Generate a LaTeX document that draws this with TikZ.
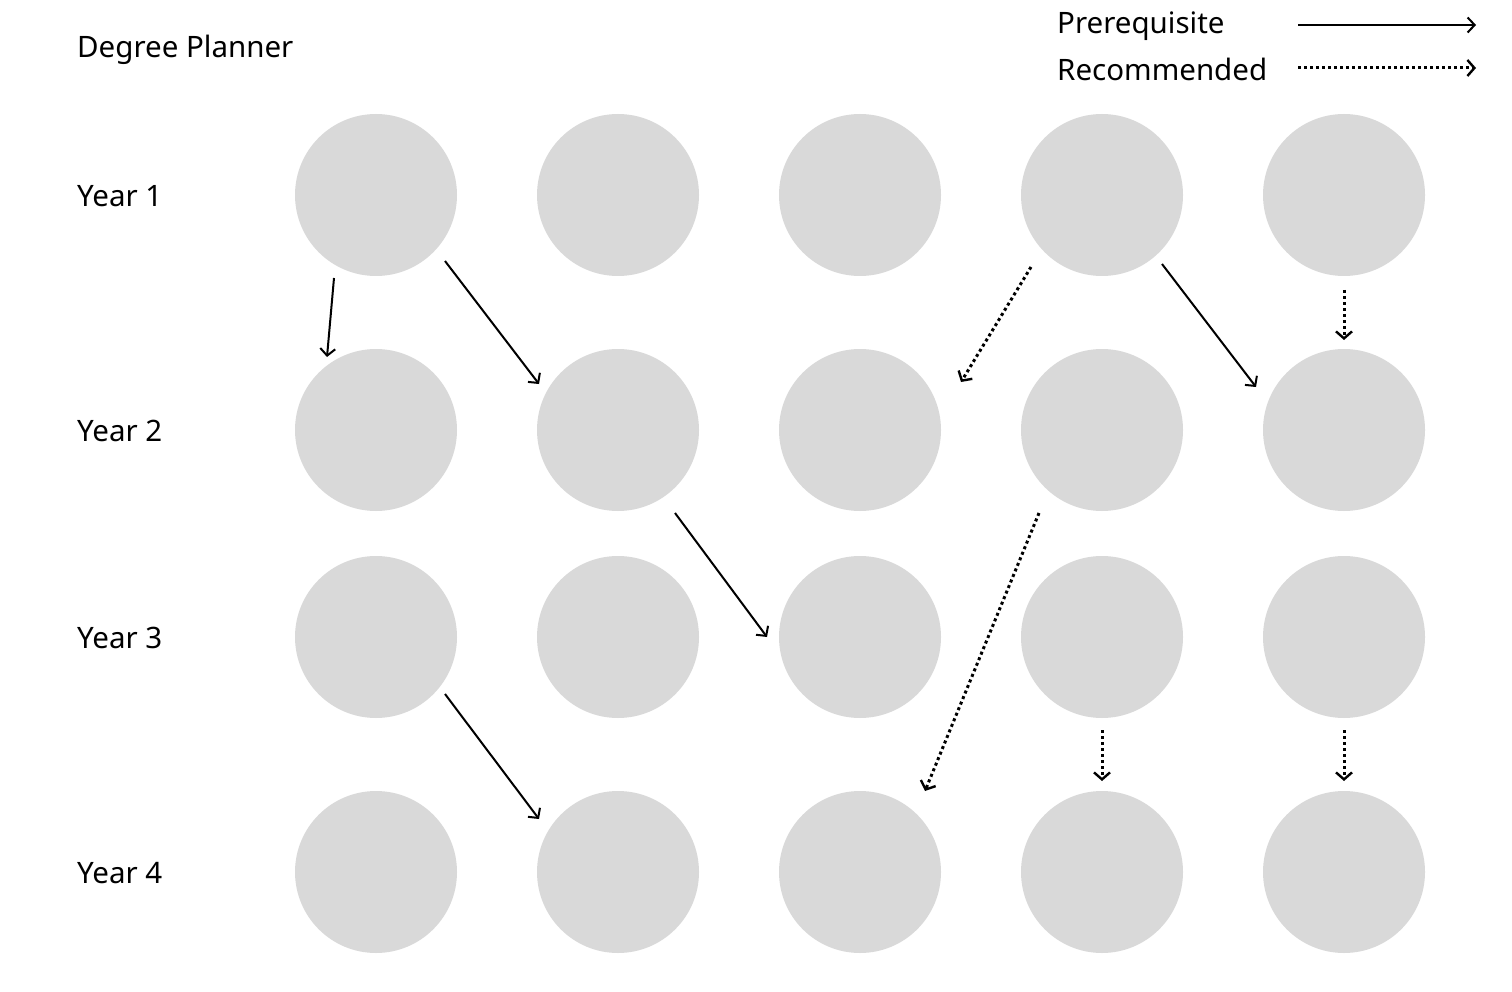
\documentclass[tikz,border=0pt]{standalone}
\usepackage{fontspec}
\setmainfont{Noto Sans}
\usepackage{tikz}
\usetikzlibrary{arrows.meta}
\definecolor{course}{HTML}{D9D9D9}
\tikzset{
  coursenode/.style={circle,fill=course,minimum size=162pt,inner sep=0pt},
  lbl/.style={anchor=west,inner sep=0pt,font=\fontsize{29.5}{34}\selectfont},
  prereq/.style={line width=2pt,-{Straight Barb[length=7pt,width=15pt,line width=2pt]}},
  recom/.style={line width=3pt,dash pattern=on 3pt off 3pt,-{Straight Barb[length=7pt,width=16pt,line width=2.4pt]}},
}

\begin{document}
\begin{tikzpicture}[x=1pt,y=-1pt]
\useasboundingbox (0,0) rectangle (1512,992);
\node[lbl] (title) at (77,50) {Degree Planner};
\node[lbl] (yr1) at (77,196) {Year 1};
\node[lbl] (yr2) at (77,431) {Year 2};
\node[lbl] (yr3) at (77,638) {Year 3};
\node[lbl] (yr4) at (77,873) {Year 4};
% courses
\foreach \r/\y in {1/195,2/430,3/637,4/872} {
  \foreach \c/\x in {1/376,2/618,3/860,4/1102,5/1344} {
    \node[coursenode] (c\r\c) at (\x,\y) {};
  }
}
% legend
\node[lbl] (legp) at (1057,26) {Prerequisite};
\node[lbl] (legr) at (1057,69) {Recommended};
\coordinate (lp1) at (1298,25);
\coordinate (lp2) at (1476,25);
\coordinate (lr1) at (1298,68);
\coordinate (lr2) at (1476,68);
\draw[prereq] (lp1) -- (lp2);
\draw[recom] (lr1) -- (lr2);
% prerequisites
\draw[prereq] ([shift={(-42,83)}]c11.center) -- ([shift={(-49,-73)}]c21.center);
\draw[prereq] ([shift={(69,66)}]c11.center) -- ([shift={(-79,-46)}]c22.center);
\draw[prereq] ([shift={(60,69)}]c14.center) -- ([shift={(-88,-43)}]c25.center);
\draw[prereq] ([shift={(57,83)}]c22.center) -- ([shift={(-93,0)}]c33.center);
\draw[prereq] ([shift={(69,57)}]c31.center) -- ([shift={(-79,-53)}]c42.center);
% recommended
\draw[recom] ([shift={(-71,72)}]c14.center) -- ([shift={(101,-48)}]c23.center);
\draw[recom] ([shift={(0,95)}]c15.center) -- ([shift={(0,-90)}]c25.center);
\draw[recom] ([shift={(-63,83)}]c24.center) -- ([shift={(65,-81)}]c43.center);
\draw[recom] ([shift={(0,93)}]c34.center) -- ([shift={(0,-91)}]c44.center);
\draw[recom] ([shift={(0,93)}]c35.center) -- ([shift={(0,-91)}]c45.center);
\end{tikzpicture}
\end{document}
